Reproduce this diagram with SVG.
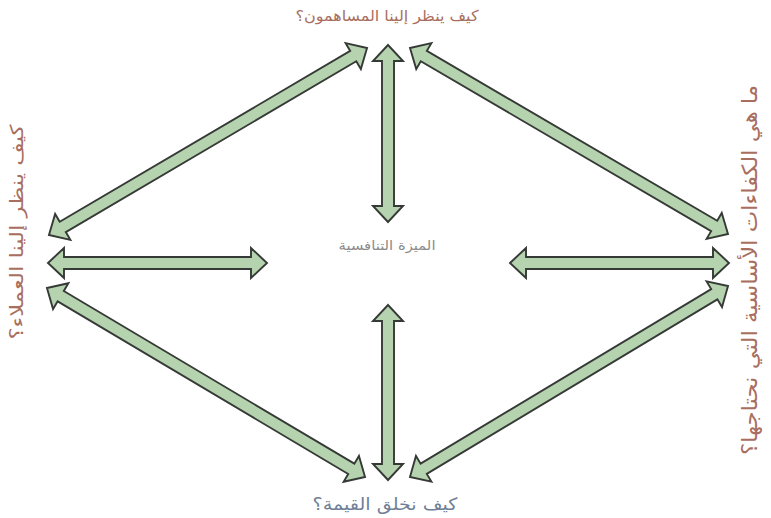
<svg xmlns="http://www.w3.org/2000/svg" width="771" height="518" viewBox="0 0 771 518">
<style>
.arr{fill:#b6d3b0;stroke:#363a36;stroke-width:1.9;stroke-linejoin:miter}
.t{font-family:"DejaVu Sans",sans-serif;text-anchor:middle}
.br{fill:#a86e60}
.bl{fill:#6f7f98}
.gr{fill:#8c8c8c}
</style>
<rect width="771" height="518" fill="#ffffff"/>
<g id="connectors">
<polygon class="arr" transform="translate(388,133.5) rotate(90)" points="-88.5,0 -72.5,-15 -72.5,-6 72.5,-6 72.5,-15 88.5,0 72.5,15 72.5,6 -72.5,6 -72.5,15"/>
<polygon class="arr" transform="translate(388,392.5) rotate(90)" points="-87.5,0 -71.5,-15 -71.5,-6 71.5,-6 71.5,-15 87.5,0 71.5,15 71.5,6 -71.5,6 -71.5,15"/>
<polygon class="arr" transform="translate(157.5,263)" points="-109.5,0 -93.5,-15 -93.5,-6 93.5,-6 93.5,-15 109.5,0 93.5,15 93.5,6 -93.5,6 -93.5,15"/>
<polygon class="arr" transform="translate(619.5,263)" points="-109.5,0 -93.5,-15 -93.5,-6 93.5,-6 93.5,-15 109.5,0 93.5,15 93.5,6 -93.5,6 -93.5,15"/>
<polygon class="arr" transform="translate(208,141.5) rotate(-30.46)" points="-184.5,0 -168.5,-15 -168.5,-6 168.5,-6 168.5,-15 184.5,0 168.5,15 168.5,6 -168.5,6 -168.5,15"/>
<polygon class="arr" transform="translate(569,141) rotate(30.33)" points="-184.2,0 -168.2,-15 -168.2,-6 168.2,-6 168.2,-15 184.2,0 168.2,15 168.2,6 -168.2,6 -168.2,15"/>
<polygon class="arr" transform="translate(206,382.5) rotate(30.72)" points="-185,0 -169,-15 -169,-6 169,-6 169,-15 185,0 169,15 169,6 -169,6 -169,15"/>
<polygon class="arr" transform="translate(569,381.5) rotate(-30.99)" points="-185.5,0 -169.5,-15 -169.5,-6 169.5,-6 169.5,-15 185.5,0 169.5,15 169.5,6 -169.5,6 -169.5,15"/>
</g>
<g id="center">
<text class="t gr" x="387" y="250" font-size="13" textLength="97" lengthAdjust="spacingAndGlyphs">الميزة التنافسية</text>
</g>
<g id="top">
<text class="t br" x="387" y="21" font-size="15" textLength="183" lengthAdjust="spacingAndGlyphs">كيف ينظر إلينا المساهمون؟</text>
</g>
<g id="bottom">
<text class="t bl" x="385" y="510" font-size="17" textLength="145" lengthAdjust="spacingAndGlyphs">كيف نخلق القيمة؟</text>
</g>
<g id="left">
<text class="t br" transform="translate(23,232) rotate(-90)" font-size="18" textLength="215" lengthAdjust="spacingAndGlyphs">كيف ينظر إلينا العملاء؟</text>
</g>
<g id="right">
<text class="t br" transform="translate(757,270) rotate(-90)" font-size="21" textLength="370" lengthAdjust="spacingAndGlyphs">ما هي الكفاءات الأساسية التي نحتاجها؟</text>
</g>
</svg>
